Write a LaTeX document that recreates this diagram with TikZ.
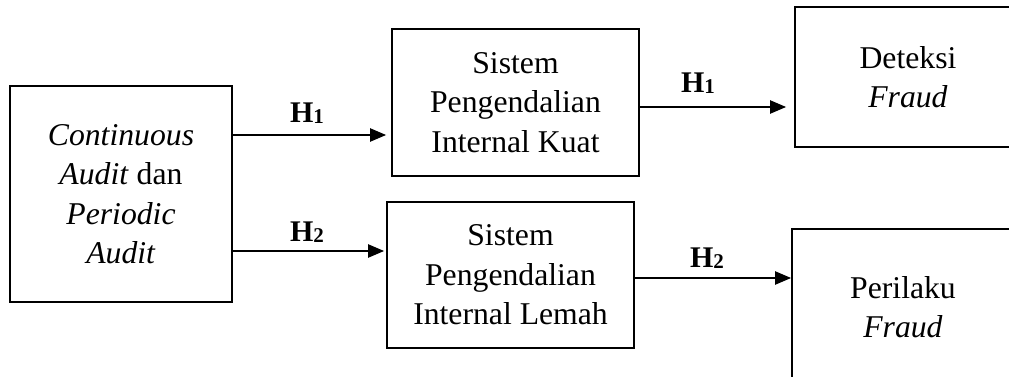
\documentclass[tikz,border=0pt]{standalone}
\usepackage{fontspec}
\setmainfont{Liberation Serif}
\usetikzlibrary{arrows.meta}

\newcommand{\hyp}[1]{\textbf{H}\raisebox{-1pt}{\fontsize{21}{21}\selectfont\textbf{#1}}}

\begin{document}
\begin{tikzpicture}[x=1pt,y=-1pt,
  every node/.style={font=\fontsize{31.7}{39.5}\selectfont},
  box/.style={draw=black,line width=1.7pt,align=center,inner sep=0pt,
              minimum width=#1},
  link/.style={line width=2.2pt,-{Triangle[length=16pt,width=13pt]}},
  hlabel/.style={font=\fontsize{30}{30}\selectfont,inner sep=0pt}]
  \useasboundingbox (0,0) rectangle (1009,377);
  \clip (0,0) rectangle (1009,377);

  % boxes
  \node[box=222pt,minimum height=216pt] (cad) at (121,194)
    {\textit{Continuous}\\\textit{Audit} dan\\\textit{Periodic}\\\textit{Audit}};
  \node[box=247pt,minimum height=147pt] (sk) at (515.5,102.5)
    {Sistem\\Pengendalian\\Internal Kuat};
  \node[box=247pt,minimum height=146pt] (sl) at (510.5,275)
    {Sistem\\Pengendalian\\Internal Lemah};
  \node[box=226pt,minimum height=140pt] (df) at (908,77)
    {Deteksi\\\textit{Fraud}};
  \node[box=222pt,minimum height=156pt] (pf) at (903,307)
    {Perilaku\\\textit{Fraud}};

  % connectors
  \draw[link,shorten >=5pt] (cad.east |- 0,135) -- (sk.west |- 0,135);
  \draw[link,shorten >=2pt] (cad.east |- 0,251) -- (sl.west |- 0,251);
  \draw[link,shorten >=8pt] (sk.east |- 0,107) -- (df.west |- 0,107);
  \draw[link] (sl.east |- 0,278) -- (pf.west |- 0,278);

  % hypothesis labels
  \node[hlabel] (h1a) at (307,113) {\hyp{1}};
  \node[hlabel] (h2a) at (307,232) {\hyp{2}};
  \node[hlabel] (h1b) at (698,83) {\hyp{1}};
  \node[hlabel] (h2b) at (707,258) {\hyp{2}};
\end{tikzpicture}
\end{document}
